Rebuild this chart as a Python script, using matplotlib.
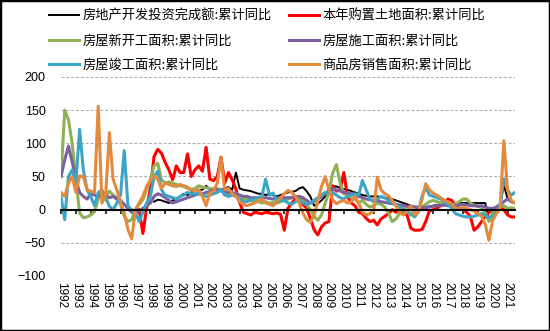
import numpy as np
import matplotlib
matplotlib.use('Agg')
import matplotlib.pyplot as plt
from matplotlib.patches import Rectangle

plt.rcParams['font.family'] = ['Noto Sans CJK SC', 'DejaVu Sans']
plt.rcParams['axes.unicode_minus'] = True

# 横轴分类标签（原表中2003出现两次）
tick_labels = [str(y) for y in range(1992, 2004)] + ['2003'] + [str(y) for y in range(2004, 2022)]

# 季度采样的累计同比(%)，起点为季度序号
start_invest = 25
invest = [12, 15, 14,
          12, 10, 14, 16,
          20, 24, 22, 26,
          28, 30, 30, 36,
          30, 32, 32, 30,
          32, 34, 30, 56,
          32, 30, 29, 28,
          26, 24, 24, 22,
          24, 22, 20, 22,
          24, 26, 27, 28,
          32, 34, 28, 20,
          6, 9, 14, 20,
          32, 36, 35, 33,
          31, 30, 28, 26,
          24, 22, 21, 20,
          20, 20, 19, 18,
          17, 16, 14, 12,
          10, 8, 6, 4,
          2, 3, 4, 5,
          6, 7, 7, 8,
          8, 9, 9, 10,
          10, 10, 10, 10,
          10, 10, 10, -16,
          -7, 2, 6, 38,
          16, 12, 10]

start_land = 21
land = [0, -36, 2,
        31, 80, 91, 85,
        71, 60, 45, 66,
        56, 56, 84, 50,
        60, 66, 58, 94,
        46, 44, 50, 79,
        40, 56, 45, 31,
        11, -4, -6, -8,
        -4, -5, -6, -4,
        -5, -6, -5, -7,
        -31, 2, 10, 16,
        12, 8, 2, -13,
        -30, -38, -26, -20,
        -18, 36, 28, 30,
        56, 20, 10, 6,
        -4, -6, -13, -18,
        -16, -23, -14, -10,
        -6, 0, -4, 0,
        -4, -8, -28, -31,
        -31, -30, -18, -2,
        0, 2, 6, 11,
        16, 14, 6, 2,
        0, -4, -10, -31,
        -26, -18, -10, -4,
        0, 2, 4, 0,
        -8, -11, -11]

start_new = 0
new_start = [50, 150, 136, 100,
             46, -5, -12, -11,
             -8, -3, 16, 25,
             20, 28, 22, 18,
             8, -10, -18, -15,
             0, 8, 15, 30,
             45, 66, 70, 45,
             40, 42, 40, 38,
             36, 35, 32, 30,
             32, 36, 34, 33,
             32, 30, 32, 30,
             26, 24, 22, 25,
             18, 16, 17, 14,
             12, 12, 10, 12,
             10, 11, 10, 12,
             14, 16, 18, 20,
             18, 14, 8, 0,
             -10, -16, -8, 10,
             26, 55, 68, 40,
             24, 22, 18, 16,
             10, 14, 8, 4,
             6, 10, 8, 4,
             -5, -18, -14, -6,
             2, -2, -8, -6,
             0, 4, 8, 12,
             14, 12, 10, 10,
             10, 8, 8, 12,
             16, 16, 10, 7,
             6, 3, -5, -18,
             -4, 2, 5, 6,
             2, 3, 2]

start_under = 0
under_constr = [50, 75, 96, 72,
                45, 26, 20, 16,
                24, 22, 20, 26,
                22, 18, 20, 16,
                14, 8, 2, -4,
                -5, -2, 2, 6,
                10, 20, 24, 22,
                18, 14, 10, 12,
                14, 16, 18, 20,
                22, 24, 24, 26,
                27, 30, 30, 28,
                28, 26, 26, 24,
                22, 20, 20, 18,
                18, 18, 17, 18,
                17, 16, 18, 18,
                18, 18, 18, 20,
                20, 18, 14, 10,
                12, 16, 20, 24,
                28, 32, 30, 28,
                26, 25, 24, 22,
                20, 18, 16, 15,
                14, 14, 12, 11,
                10, 9, 8, 7,
                6, 5, 5, 4,
                4, 3, 3, 4,
                5, 6, 6, 7,
                6, 5, 6, 7,
                8, 7, 6, 6,
                5, 6, 4, 2,
                2, 4, 8, 12,
                16, 12, 10]

start_done = 0
completed = [20, -15, 50, 60,
             40, 121, 60, 30,
             20, 6, 26, 30,
             18, 5, 0, 10,
             22, 89, 5, 0,
             -5, -18, -4, 10,
             20, 50, 58, 30,
             22, 20, 18, 16,
             20, 22, 26, 24,
             24, 24, 22, 20,
             22, 24, 26, 30,
             22, 20, 22, 20,
             16, 12, 12, 15,
             16, 18, 20, 46,
             22, 25, 11, 14,
             14, 10, 8, 12,
             14, 10, 8, 10,
             14, 18, 22, 26,
             26, 26, 22, 18,
             16, 20, 22, 24,
             22, 44, 30, 16,
             12, 16, 20, 18,
             14, 10, 8, 4,
             0, -4, -6, -11,
             -4, 20, 34, 22,
             20, 18, 16, 12,
             8, 2, -6, -8,
             -10, -11, -11, -10,
             -8, -6, -9, -12,
             -10, -4, 6, 46,
             30, 22, 26]

start_sales = 0
sales = [26, 20, 40, 50,
         26, 51, 50, 30,
         28, 26, 156, 10,
         21, 116, 46, 30,
         12, -5, -30, -44,
         0, 10, 20, 35,
         44, 51, 46, 32,
         40, 38, 36, 35,
         38, 36, 34, 30,
         28, 30, 20, 6,
         25, 28, 40, 78,
         30, 32, 24, 20,
         12, 8, 6, 8,
         10, 14, 16, 10,
         8, 6, 12, 18,
         24, 29, 26, 20,
         10, -5, -15, -19,
         -8, 12, 35, 50,
         30, 15, 9, 12,
         14, 10, 12, 20,
         10, -4, -8, -6,
         -2, 49, 30, 24,
         21, 14, 6, -4,
         -8, -2, 6, -8,
         -4, 15, 39, 30,
         25, 22, 18, 14,
         12, 8, 2, 2,
         4, 2, 0, -2,
         -6, -10, -22, -46,
         -16, -6, 2, 104,
         30, 14, 10]

series = [
    ('房地产开发投资完成额:累计同比', start_invest, invest, '#000000', 1.4),
    ('本年购置土地面积:累计同比', start_land, land, '#FF0000', 2.2),
    ('房屋新开工面积:累计同比', start_new, new_start, '#8FB155', 2.2),
    ('房屋施工面积:累计同比', start_under, under_constr, '#7B60A2', 2.2),
    ('房屋竣工面积:累计同比', start_done, completed, '#3DA5C4', 2.2),
    ('商品房销售面积:累计同比', start_sales, sales, '#E38A3D', 2.2),
]

fig = plt.figure(figsize=(5.5, 3.31), dpi=100)
ax = fig.add_axes([61 / 550, 55 / 331, 454 / 550, 199 / 331])

lines = {}
for name, q0, vals, color, lw in series:
    x = (q0 + np.arange(len(vals))) / 4
    ln, = ax.plot(x, vals, color=color, linewidth=lw, label=name, solid_joinstyle='round')
    lines[name] = ln

ax.set_xlim(0, 30.5)
ax.set_ylim(-100, 200)
ax.set_yticks([-100, -50, 0, 50, 100, 150, 200])
ax.yaxis.grid(True, linestyle=(0, (3, 2)), color='#AAAAAA', linewidth=0.7)
ax.set_axisbelow(True)

for s in ['left', 'right', 'top']:
    ax.spines[s].set_visible(False)
ax.spines['bottom'].set_position(('data', 0))
ax.spines['bottom'].set_linewidth(1.5)
ax.set_xticks(range(len(tick_labels)))
ax.tick_params(axis='x', direction='out', length=3, width=1.1, labelbottom=False)
ax.tick_params(axis='y', length=0, pad=11)
for lab in ax.get_yticklabels():
    lab.set_fontfamily('Liberation Sans')
    lab.set_fontsize(9)

# 年份标签放在图区底部
sec = ax.secondary_xaxis('bottom')
sec.set_xticks(range(len(tick_labels)), labels=tick_labels)
sec.tick_params(length=0, pad=4)
sec.spines['bottom'].set_visible(False)
for lab in sec.get_xticklabels():
    lab.set_rotation(-90)
    lab.set_fontfamily('Liberation Sans')
    lab.set_fontsize(8.5)

order = [series[i][0] for i in (0, 2, 4, 1, 3, 5)]
fig.legend([lines[n] for n in order], order, ncol=2, loc='upper left',
           bbox_to_anchor=(49 / 550, 1 - 10 / 331), frameon=False, fontsize=9.5,
           handlelength=2.3, handletextpad=0.25, columnspacing=1.3,
           labelspacing=0.85, borderpad=0, borderaxespad=0)

fig.patches.append(Rectangle((0, 0), 1, 1, transform=fig.transFigure, fill=False,
                             edgecolor='black', linewidth=2.5))

fig.savefig('out.png', dpi=100)
